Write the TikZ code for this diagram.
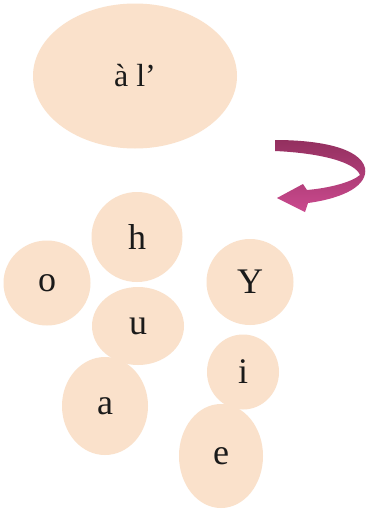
\documentclass[tikz,border=0pt]{standalone}
\usepackage{fontspec}
\setmainfont{Liberation Serif}
\usetikzlibrary{shapes.geometric}
\definecolor{peach}{HTML}{FAE1CB}
\definecolor{plum}{HTML}{93305F}
\definecolor{rose}{HTML}{CB4A8F}
\definecolor{ink}{HTML}{1A1A1A}

\begin{document}
\begin{tikzpicture}[
  x=1pt, y=-1pt,
  blob/.style 2 args={
    ellipse, fill=peach, draw=none, inner sep=0pt,
    minimum width=#1, minimum height=#2,
    font=\fontsize{36}{40}\selectfont, text=ink
  },
  bigblob/.style={
    blob={204pt}{145pt}, font=\fontsize{32}{36}\selectfont
  },
]

% Page frame
\useasboundingbox (0,0) rectangle (366,512);
\fill[white] (0,0) rectangle (366,512);

% =============================================
% Large cell (top)
% =============================================
\node[bigblob] (whole) at (135,76) {à l’};

% =============================================
% Turning arrow (right)
% =============================================
\shade[top color=plum, bottom color=rose]
  (275,140) .. controls (320,140) and (360,148) .. (365,168)
  .. controls (368,185) and (345,198) .. (308,203)
  -- (305,212) -- (277,198) -- (303,184) -- (307,190)
  .. controls (330,188) and (352,182) .. (360,175)
  .. controls (355,162) and (320,153) .. (275,151) -- cycle;

% =============================================
% Small cells (bottom)
% =============================================
\node[blob={91pt}{90pt}]  (h) at (137,237) {h};
\node[blob={87pt}{85pt}]  (o) at (47,283)  {o};
\node[blob={92pt}{78pt}]  (u) at (138,326) {u};
\node[blob={86pt}{98pt}]  (a) at (105,406) {a};
\node[blob={87pt}{86pt}]  (Y) at (250,282) {Y};
\node[blob={72pt}{75pt}]  (i) at (243,372) {i};
\node[blob={84pt}{104pt}] (e) at (221,456) {e};

\end{tikzpicture}
\end{document}
